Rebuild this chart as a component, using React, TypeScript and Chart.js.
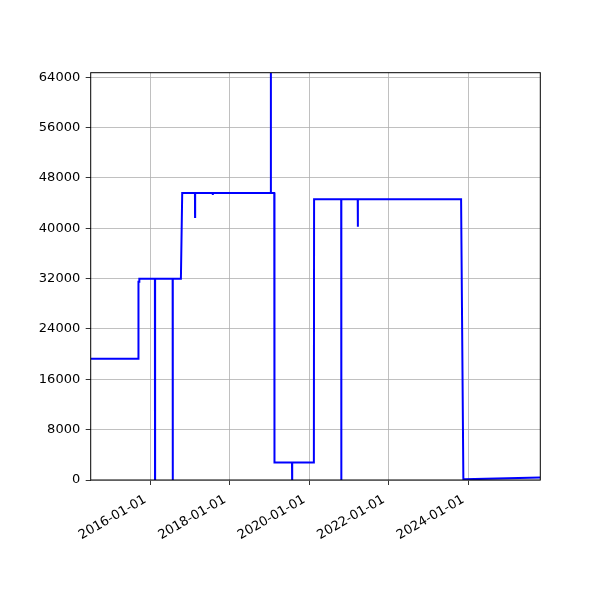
import { Chart, registerables } from 'chart.js';
import React, { useEffect, useRef } from 'react';

Chart.register(...registerables);

// series (date, value)
const dates = [
  '2014-07-02', '2015-09-12', '2015-09-14', '2015-09-21', '2015-09-22',
  '2016-02-12', '2016-02-13', '2016-02-14', '2016-07-24', '2016-07-25',
  '2016-07-26', '2016-10-08', '2016-10-20', '2017-02-14', '2017-02-15',
  '2017-02-16', '2017-07-27', '2017-07-28', '2017-07-29', '2019-01-10',
  '2019-01-12', '2019-01-14', '2019-02-13', '2019-02-15', '2019-07-26',
  '2019-07-27', '2019-07-28', '2020-02-12', '2020-02-14', '2020-10-20',
  '2020-10-21', '2020-10-22', '2021-03-21', '2021-03-22', '2021-03-23',
  '2023-10-27', '2023-11-17', '2025-10-24',
];
const values = [
  19250, 19250, 31500, 31500, 32000,
  32000, 0, 32000, 32000, 0,
  32000, 32000, 45600, 45600, 41800,
  45600, 45600, 45300, 45600, 45600,
  64730, 45600, 45600, 2800, 2800,
  0, 2800, 2800, 44600, 44600,
  0, 44600, 44600, 40250, 44600,
  44600, 100, 400,
];

const xTickDates = ['2016-01-01', '2018-01-01', '2020-01-01', '2022-01-01', '2024-01-01'];
const yTickValues = [0, 8000, 16000, 24000, 32000, 40000, 48000, 56000, 64000];

const X_MIN = '2014-07-02';
const X_MAX = '2025-10-24';
const Y_MAX = 64730;

const FONT = { family: "'DejaVu Sans', sans-serif", size: 13 };

// black frame round the plot area, like matplotlib spines
const framePlugin = {
  id: 'frame',
  afterDatasetsDraw(chart: Chart) {
    const { ctx, chartArea } = chart;
    ctx.save();
    ctx.strokeStyle = '#000';
    ctx.lineWidth = 1;
    ctx.strokeRect(chartArea.left, chartArea.top, chartArea.right - chartArea.left, chartArea.bottom - chartArea.top);
    ctx.restore();
  },
};

export default function App() {
  const canvasRef = useRef<HTMLCanvasElement>(null);

  useEffect(() => {
    if (!canvasRef.current) return;

    const points = dates.map((d, i) => ({ x: Date.parse(d), y: values[i] }));

    const chart = new Chart(canvasRef.current, {
      type: 'line',
      data: {
        datasets: [
          {
            data: points,
            borderColor: '#0000ff',
            borderWidth: 2,
            pointRadius: 0,
            tension: 0,
            fill: false,
          },
        ],
      },
      options: {
        responsive: false,
        animation: false,
        layout: { padding: { left: 0, top: 72.7, right: 59.7, bottom: 0 } },
        plugins: {
          legend: { display: false },
          tooltip: { enabled: false },
        },
        scales: {
          x: {
            type: 'linear',
            min: Date.parse(X_MIN),
            max: Date.parse(X_MAX),
            afterBuildTicks: (scale: any) => {
              scale.ticks = xTickDates.map((d) => ({ value: Date.parse(d) }));
            },
            afterFit: (scale: any) => {
              scale.height = 120;
            },
            grid: { color: '#b0b0b0', lineWidth: 0.8, tickColor: '#000', tickLength: 5 },
            border: { display: false },
            ticks: {
              autoSkip: false,
              maxRotation: 30,
              minRotation: 30,
              padding: 7,
              labelOffset: -5,
              color: '#000',
              font: FONT,
              callback: (value: any) => new Date(value).toISOString().slice(0, 10),
            },
          },
          y: {
            type: 'linear',
            min: 0,
            max: Y_MAX,
            afterBuildTicks: (scale: any) => {
              scale.ticks = yTickValues.map((v) => ({ value: v }));
            },
            afterFit: (scale: any) => {
              scale.width = 90.7;
            },
            grid: { color: '#b0b0b0', lineWidth: 0.8, tickColor: '#000', tickLength: 5 },
            border: { display: false },
            ticks: {
              padding: 5.5,
              color: '#000',
              font: FONT,
              callback: (value: any) => `${value}`,
            },
          },
        },
      },
      plugins: [framePlugin],
    });

    return () => chart.destroy();
  }, []);

  return (
    <div style={{ position: 'absolute', left: 0, top: 0, width: 600, height: 600, background: '#fff' }}>
      <canvas ref={canvasRef} width={600} height={600} />
    </div>
  );
}
